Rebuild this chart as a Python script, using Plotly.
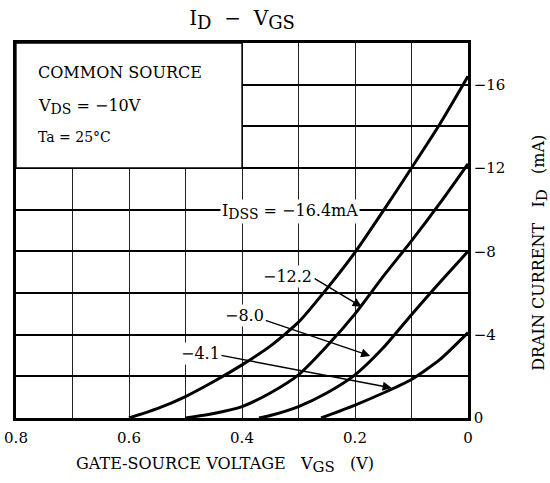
import plotly.graph_objects as go

# V_GS (V) and I_D (mA)
vgs_164 = [0.6, 0.55, 0.5, 0.45, 0.4, 0.35, 0.3, 0.25, 0.2, 0.15, 0.1, 0.05, 0.0]
id_164 = [0, -0.45, -1.03, -1.75, -2.55, -3.45, -4.6, -6.2, -7.95, -9.94, -12.0, -14.1, -16.4]

vgs_122 = [0.5, 0.45, 0.4, 0.35, 0.3, 0.25, 0.2, 0.15, 0.1, 0.05, 0.0]
id_122 = [0, -0.22, -0.55, -1.2, -2.07, -3.44, -5.0, -6.8, -8.5, -10.3, -12.2]

vgs_80 = [0.37, 0.35, 0.3, 0.25, 0.2, 0.15, 0.1, 0.05, 0.0]
id_80 = [0, -0.12, -0.55, -1.2, -2.07, -3.37, -4.96, -6.5, -8.0]

vgs_41 = [0.26, 0.2, 0.15, 0.1, 0.05, 0.0]
id_41 = [0, -0.62, -1.2, -1.85, -2.8, -4.1]

x_tickvals = [0.8, 0.6, 0.4, 0.2, 0.0]
x_ticktext = ["0.8", "0.6", "0.4", "0.2", "0"]
y_tickvals = [0, -4, -8, -12, -16]
y_ticktext = ["0", "−4", "−8", "−12", "−16"]

FONT = "DejaVu Serif"


def sub(s, size):
    return "<sub><span style='font-size:%dpx'>%s</span></sub>" % (size, s)


fig = go.Figure()
for xs, ys in [(vgs_164, id_164), (vgs_122, id_122), (vgs_80, id_80), (vgs_41, id_41)]:
    fig.add_trace(go.Scatter(x=xs, y=ys, mode="lines",
                             line=dict(color="black", width=3, shape="spline", smoothing=0.6),
                             showlegend=False, hoverinfo="skip"))

# white condition box (covers the grid), between grid and traces
fig.add_shape(type="rect", xref="x", yref="y", x0=0.8, x1=0.4, y0=-12, y1=-18,
              fillcolor="white", line=dict(color="black", width=1.3), layer="between")

ann = []
tf = dict(family=FONT, size=16, color="black")
ann.append(dict(x=0.765, y=-16.6, xref="x", yref="y", text="COMMON SOURCE", showarrow=False,
                xanchor="left", font=tf))
ann.append(dict(x=0.765, y=-14.93, xref="x", yref="y", text="V" + sub("DS", 14) + " = −10V",
                showarrow=False, xanchor="left", font=tf))
ann.append(dict(x=0.765, y=-13.49, xref="x", yref="y", text="Ta = 25°C", showarrow=False,
                xanchor="left", font=dict(family=FONT, size=14, color="black")))

ann.append(dict(x=0.315, y=-9.9, xref="x", yref="y", text="I" + sub("DSS", 14) + " = −16.4mA",
                showarrow=False, bgcolor="white", font=tf))

labels = [("−12.2", 0.319, -6.77, 0.274, -6.73, 0.188, -5.34),
          ("−8.0", 0.395, -4.9, 0.361, -4.71, 0.173, -2.98),
          ("−4.1", 0.474, -3.12, 0.442, -3.03, 0.135, -1.44)]
for t, lx, ly, tx, ty, hx, hy in labels:
    ann.append(dict(x=hx, y=hy, ax=tx, ay=ty, xref="x", yref="y", axref="x", ayref="y",
                    text="", showarrow=True, arrowhead=2, arrowsize=1.3, arrowwidth=1.4,
                    arrowcolor="black", standoff=0))
    ann.append(dict(x=lx, y=ly, xref="x", yref="y", text=t, showarrow=False,
                    bgcolor="white", font=tf))

ann.append(dict(x=0.462, y=-0.125, xref="paper", yref="paper", xanchor="center", yanchor="middle",
                text="GATE-SOURCE VOLTAGE   V" + sub("GS", 15) + "   (V)", showarrow=False,
                font=dict(family=FONT, size=16, color="black")))
ann.append(dict(x=1.159, y=0.44, xref="paper", yref="paper", textangle=-90,
                xanchor="center", yanchor="middle",
                text="DRAIN CURRENT   I" + sub("D", 15) + "   (mA)", showarrow=False,
                font=dict(family=FONT, size=16, color="black")))

fig.update_layout(
    width=550, height=483,
    margin=dict(l=16, r=82, t=43, b=65, autoexpand=False),
    paper_bgcolor="white", plot_bgcolor="white",
    title=dict(text="I" + sub("D", 18) + "  −  V" + sub("GS", 18), x=0.5, xref="paper",
               y=1 - 18 / 483, yanchor="middle",
               font=dict(family=FONT, size=20, color="black")),
    annotations=ann,
    font=dict(family=FONT, size=15, color="black"),
)

fig.update_xaxes(range=[0.8, 0.0], tickvals=x_tickvals, ticktext=x_ticktext, automargin=False,
                 showgrid=True, gridcolor="#222222", gridwidth=1.2,
                 minor=dict(dtick=0.1, showgrid=True, gridcolor="#222222", gridwidth=1.2),
                 showline=True, linecolor="black", linewidth=2.5, mirror=True,
                 ticks="", ticklabelstandoff=4, zeroline=False,
                 tickfont=dict(family=FONT, size=15, color="black"))
fig.update_yaxes(range=[0, -18], side="right", tickvals=y_tickvals, ticktext=y_ticktext,
                 automargin=False,
                 showgrid=True, gridcolor="black", gridwidth=1.5,
                 minor=dict(dtick=2, showgrid=True, gridcolor="black", gridwidth=1.5),
                 showline=True, linecolor="black", linewidth=2.5, mirror=True,
                 ticks="", zeroline=False, tickfont=dict(family=FONT, size=15, color="black"))

fig.write_html("out.html", config={"displayModeBar": False},
               post_script="document.body.style.margin='0';")
